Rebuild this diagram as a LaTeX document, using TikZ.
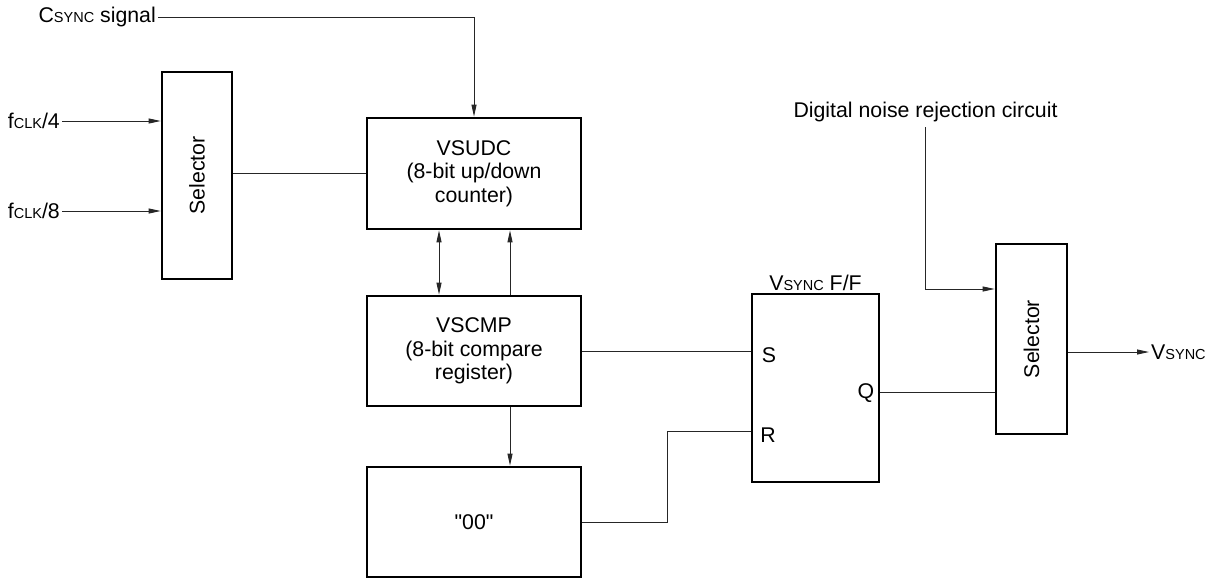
\documentclass[tikz,border=0pt]{standalone}
\usepackage{fontspec}
\setmainfont{Liberation Sans}[Ligatures=TeXOff]
\usetikzlibrary{arrows.meta,calc}
\newcommand\smc[1]{{\fontsize{14.5}{17}\selectfont #1}}
\begin{document}
\begin{tikzpicture}[x=1pt,y=-1pt,
  font=\fontsize{21.3}{23.5}\selectfont,
  blk/.style={draw, line width=2.7pt, inner sep=0pt, align=center},
  wire/.style={line width=0.9pt, draw=black!85},
  arr/.style={wire, -{Triangle[length=12pt,width=5pt]}},
  darr/.style={wire, {Triangle[length=12pt,width=5pt]}-{Triangle[length=12pt,width=5pt]}},
  lbl/.style={inner sep=2pt}]
\useasboundingbox (0,0) rectangle (1212,578);
% blocks
\node[blk, minimum width=70pt, minimum height=207pt] (sel1) at (197,175.5) {};
\node[rotate=90] (sel1t) at (sel1.center) {Selector};
\node[blk, minimum width=214pt, minimum height=111pt] (vsudc) at (474,173.5) {VSUDC\\(8-bit up/down\\counter)};
\node[blk, minimum width=214pt, minimum height=110pt] (vscmp) at (474,351) {VSCMP\\(8-bit compare\\register)};
\node[blk, minimum width=214pt, minimum height=110pt] (zz) at (474,522) {"00"};
\node[blk, minimum width=127pt, minimum height=188pt] (ff) at (815.5,388) {};
\node[blk, minimum width=71pt, minimum height=190pt] (sel2) at (1031.5,339) {};
\node[rotate=90] (sel2t) at (sel2.center) {Selector};
% labels
\node[lbl, anchor=east] (f4) at (62,121) {f\smc{CLK}/4};
\node[lbl, anchor=east] (f8) at (62,211) {f\smc{CLK}/8};
\node[lbl, anchor=east] (cs) at (158,17) {C\smc{SYNC} signal};
\node[lbl, anchor=south] (fft) at (815.5,293) {V\smc{SYNC} F/F};
\node[lbl] (s) at (769,355) {S};
\node[lbl] (r) at (768,435) {R};
\node[lbl] (q) at (866,393) {Q};
\node[lbl, anchor=west] (vout) at (1149,352) {V\smc{SYNC}};
\node[lbl] (dn) at (925.5,112) {Digital noise rejection circuit};
% helper coordinates
\coordinate (xa) at (439,0);
\coordinate (xb) at (510,0);
\coordinate (ys) at (0,351);
\coordinate (yr) at (0,431);
\coordinate (yq) at (0,392);
\coordinate (rk) at (667,431);
\coordinate (dntop) at (925,127);
\coordinate (yd) at (0,289);
% connectors
\draw[arr] (f4.east) -- (f4.east -| sel1.west);
\draw[arr] (f8.east) -- (f8.east -| sel1.west);
\draw[wire] (sel1.east |- vsudc.west) -- (vsudc.west);
\draw[arr] (cs.east) -| (vsudc.north);
\draw[darr] (vsudc.south -| xa) -- (vscmp.north -| xa);
\draw[arr] (vscmp.north -| xb) -- (vsudc.south -| xb);
\draw[arr] (vscmp.south -| xb) -- (zz.north -| xb);
\draw[wire] (vscmp.east |- ys) -- (ff.west |- ys);
\draw[wire] (zz.east) -| (rk) -- (ff.west |- yr);
\draw[wire] (ff.east |- yq) -- (sel2.west |- yq);
\draw[arr] (dntop) |- (sel2.west |- yd);
\draw[arr] (sel2.east |- vout.west) -- (vout.west);
\end{tikzpicture}
\end{document}
